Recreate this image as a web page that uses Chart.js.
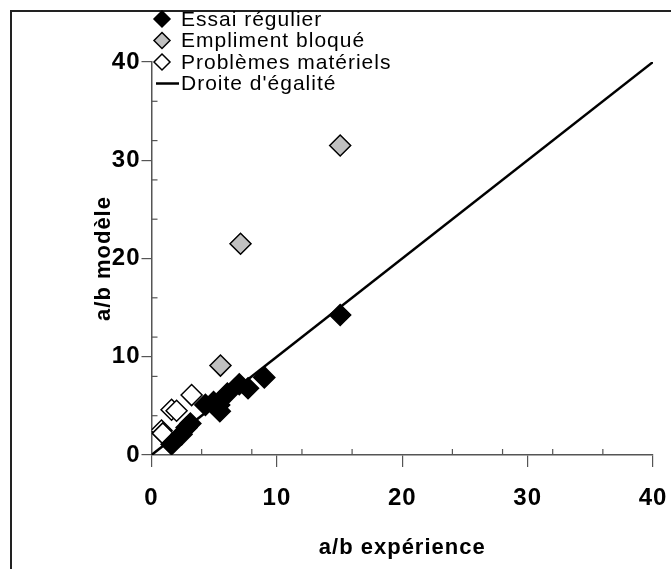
<!DOCTYPE html>
<html><head><meta charset="utf-8">
<script src="https://cdn.jsdelivr.net/npm/chart.js@4"></script>
<style>html,body{margin:0;padding:0;background:#fff}</style>
</head><body>
<canvas id="c" width="671" height="569" style="display:block;width:671px;height:569px"></canvas>
<script>
// ---- data ----
const essaiX = [1.6, 2.4, 2.8, 3.1, 4.3, 4.95, 5.45, 5.4, 6.05, 7.0, 7.7, 9.0, 15.05];
const essaiY = [1.1, 2.1, 2.8, 3.2, 5.1, 5.4, 4.45, 5.1, 6.25, 7.2, 6.8, 7.9, 14.25];
const bloqueX = [5.5, 7.1, 15.05];
const bloqueY = [9.1, 21.5, 31.5];
const problX = [0.8, 0.9, 1.6, 2.0, 3.2];
const problY = [2.5, 2.2, 4.6, 4.5, 6.1];
const egalX = [0, 40];
const egalY = [0, 40];
const seriesNames = ['Essai régulier', 'Empliment bloqué', 'Problèmes matériels', "Droite d'égalité"];
const axisTicks = [0, 10, 20, 30, 40];
const minorTicks = [4, 8, 12, 16, 24, 28, 32, 36];
const xTitle = 'a/b expérience';
const yTitle = 'a/b modèle';

const pts = (xs, ys) => xs.map((x, i) => ({x, y: ys[i]}));

const FONT = "'Liberation Sans', Arial, sans-serif";

const decor = {
  id: 'decor',
  beforeDraw(chart) {
    const ctx = chart.ctx;
    ctx.save();
    ctx.fillStyle = '#fff';
    ctx.fillRect(0, 0, chart.width, chart.height);
    ctx.strokeStyle = '#222';
    ctx.lineWidth = 2;
    ctx.beginPath();
    ctx.moveTo(11, chart.height);
    ctx.lineTo(11, 11);
    ctx.lineTo(chart.width, 11);
    ctx.stroke();
    ctx.restore();
    ctx.letterSpacing = '1px';
  },
  afterDraw(chart) {
    const ctx = chart.ctx;
    const xs = chart.scales.x, ys = chart.scales.y;
    ctx.save();
    ctx.strokeStyle = '#555';
    ctx.lineWidth = 1.2;
    const x0 = xs.getPixelForValue(0), y0 = ys.getPixelForValue(0);
    minorTicks.forEach(v => {
      const px = xs.getPixelForValue(v);
      ctx.beginPath(); ctx.moveTo(px, y0); ctx.lineTo(px, y0 - 6); ctx.stroke();
      const py = ys.getPixelForValue(v);
      ctx.beginPath(); ctx.moveTo(x0, py); ctx.lineTo(x0 + 6, py); ctx.stroke();
    });
    // legend
    const lx = 162, ly0 = 19, dy = 21.5;
    ctx.font = '21px ' + FONT;
    ctx.letterSpacing = '1px';
    ctx.textBaseline = 'middle';
    ctx.textAlign = 'left';
    chart.data.datasets.forEach((ds, i) => {
      const y = ly0 + i * dy;
      if (ds.type === 'line') {
        ctx.strokeStyle = ds.borderColor; ctx.lineWidth = ds.borderWidth;
        ctx.beginPath(); ctx.moveTo(lx - 6, y); ctx.lineTo(lx + 17, y); ctx.stroke();
      } else {
        const r = 8;
        ctx.fillStyle = ds.backgroundColor; ctx.strokeStyle = ds.borderColor; ctx.lineWidth = 1.5;
        ctx.beginPath(); ctx.moveTo(lx, y - r); ctx.lineTo(lx + r, y); ctx.lineTo(lx, y + r); ctx.lineTo(lx - r, y); ctx.closePath();
        ctx.fill(); ctx.stroke();
      }
      ctx.fillStyle = '#000';
      ctx.fillText(ds.label, lx + 19, y + 1);
    });
    ctx.restore();
  }
};

const scatterDs = (label, data, fill) => ({
  type: 'scatter', label, data,
  pointStyle: 'rectRot', pointRadius: 10.5, pointHoverRadius: 10.5,
  backgroundColor: fill, borderColor: '#000', borderWidth: 1.5, order: 1
});

new Chart(document.getElementById('c'), {
  data: {
    datasets: [
      scatterDs(seriesNames[0], pts(essaiX, essaiY), '#000'),
      scatterDs(seriesNames[1], pts(bloqueX, bloqueY), '#c0c0c0'),
      scatterDs(seriesNames[2], pts(problX, problY), '#fff'),
      { type: 'line', label: seriesNames[3], data: pts(egalX, egalY), borderColor: '#000', borderWidth: 2.5,
        pointRadius: 0, fill: false, order: 0, tension: 0 }
    ]
  },
  options: {
    responsive: false, animation: false, devicePixelRatio: 1,
    layout: { padding: { left: 91, right: 18, top: 62, bottom: 0 } },
    plugins: { legend: { display: false }, tooltip: { enabled: false } },
    scales: {
      x: {
        type: 'linear', min: 0, max: 40,
        afterFit(s) { s.height = 114; s.paddingLeft = 0; s.paddingRight = 0; },
        afterBuildTicks(s) { s.ticks = axisTicks.map(v => ({value: v})); },
        ticks: { color: '#000', padding: 17, font: { family: FONT, size: 24, weight: 'bold' } },
        grid: { drawOnChartArea: false, drawTicks: true, tickLength: 12, color: '#555', lineWidth: 1.2 },
        border: { display: true, color: '#555', width: 1.5 },
        title: { display: true, text: xTitle, color: '#000', padding: { top: 0, bottom: 8 },
                 font: { family: FONT, size: 22, weight: 'bold' } }
      },
      y: {
        type: 'linear', min: 0, max: 40,
        afterFit(s) { s.width = 60.5; s.paddingTop = 0; s.paddingBottom = 0; },
        afterBuildTicks(s) { s.ticks = axisTicks.map(v => ({value: v})); },
        ticks: { color: '#000', padding: 1, font: { family: FONT, size: 24, weight: 'bold' } },
        grid: { drawOnChartArea: false, drawTicks: true, tickLength: 10, color: '#555', lineWidth: 1.2 },
        border: { display: true, color: '#555', width: 1.5 },
        title: { display: true, text: yTitle, color: '#000', padding: { top: 0, bottom: 0 },
                 font: { family: FONT, size: 22, weight: 'bold' } }
      }
    }
  },
  plugins: [decor]
});
</script>
</body></html>
